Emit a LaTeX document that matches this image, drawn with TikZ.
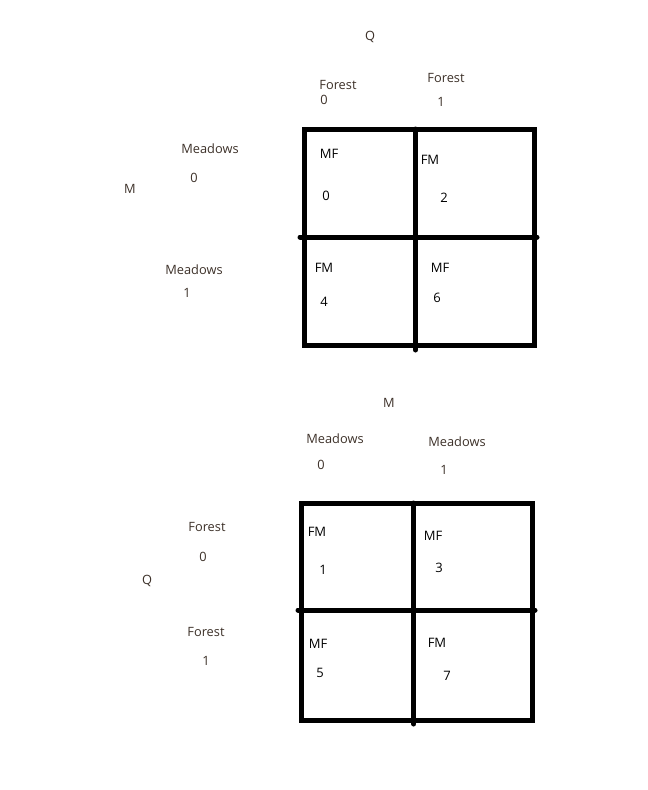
\documentclass[tikz,border=0pt]{standalone}
\usepackage{fontspec}
\setmainfont{Open Sans}
\definecolor{lbl}{HTML}{3C3028}
\begin{document}
\begin{tikzpicture}[x=1pt,y=-1pt,
  lab/.style={font=\fontsize{12.8}{14}\selectfont, text=lbl, inner sep=0pt},
  cell/.style={font=\fontsize{13}{14}\selectfont, text=black, inner sep=0pt},
  grid/.style={line width=5pt, line cap=round}]
\useasboundingbox (0,0) rectangle (648,790);
% ---------- top table ----------
\node[lab] (q1) at (370,37) {Q};
\node[lab] (f0) at (338,85) {Forest};
\node[lab] (f0n) at (324,100) {0};
\node[lab] (f1) at (446,78) {Forest};
\node[lab] (f1n) at (441,102) {1};
\node[lab] (m0) at (210,149) {Meadows};
\node[lab] (m0n) at (194,178) {0};
\node[lab] (m1) at (130,189) {M};
\node[lab] (md1) at (194,270) {Meadows};
\node[lab] (md1n) at (187,293) {1};
\node[cell] (c0a) at (329,154) {MF};
\node[cell] (c0b) at (326,196) {0};
\node[cell] (c2a) at (430,160) {FM};
\node[cell] (c2b) at (444,198) {2};
\node[cell] (c4a) at (324,268) {FM};
\node[cell] (c4b) at (324,302) {4};
\node[cell] (c6a) at (440,268) {MF};
\node[cell] (c6b) at (437,298) {6};
\draw[grid] (304,129) rectangle (534,345.5);
\draw[grid] (415.5,129) -- (415.5,350);
\draw[grid] (300,237) -- (537,237);
% ---------- bottom table ----------
\node[lab] (m2) at (389,403) {M};
\node[lab] (b0) at (335,439) {Meadows};
\node[lab] (b0n) at (321,465) {0};
\node[lab] (b1) at (457,442) {Meadows};
\node[lab] (b1n) at (444,470) {1};
\node[lab] (r0) at (207,527) {Forest};
\node[lab] (r0n) at (203,557) {0};
\node[lab] (q2) at (147,581) {Q};
\node[lab] (r1) at (206,632) {Forest};
\node[lab] (r1n) at (206,661) {1};
\node[cell] (d1a) at (317,532) {FM};
\node[cell] (d1b) at (323,570) {1};
\node[cell] (d3a) at (433,536) {MF};
\node[cell] (d3b) at (439,568) {3};
\node[cell] (d5a) at (318,644) {MF};
\node[cell] (d5b) at (320,673) {5};
\node[cell] (d7a) at (437,643) {FM};
\node[cell] (d7b) at (447,676) {7};
\draw[grid] (301,503) rectangle (532,720);
\draw[grid] (413.7,503) -- (413.7,724);
\draw[grid] (298,610) -- (535,610);
\end{tikzpicture}
\end{document}
